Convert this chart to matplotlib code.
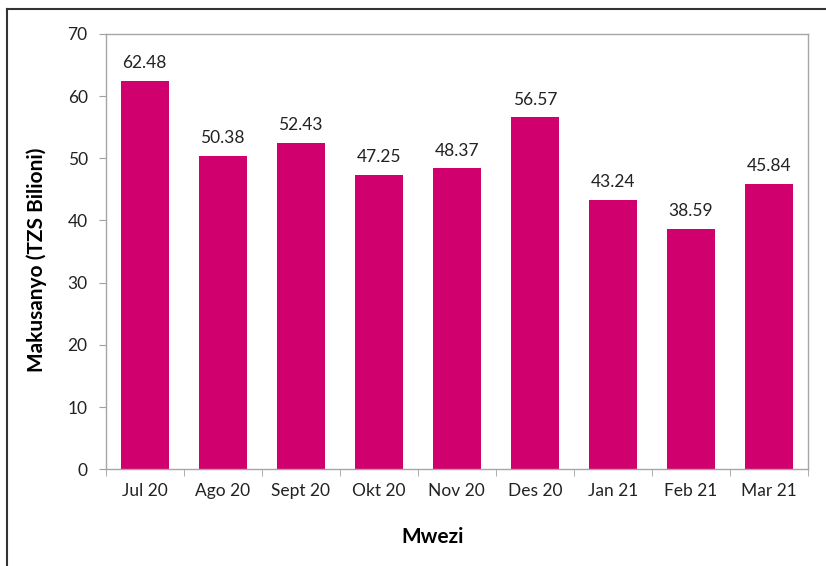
import matplotlib.pyplot as plt
from matplotlib.lines import Line2D
import numpy as np

months = ["Jul 20", "Ago 20", "Sept 20", "Okt 20", "Nov 20", "Des 20", "Jan 21", "Feb 21", "Mar 21"]
values = [62.48, 50.38, 52.43, 47.25, 48.37, 56.57, 43.24, 38.59, 45.84]

plt.rcParams['font.family'] = ['Lato', 'DejaVu Sans']

fig = plt.figure(figsize=(8.26, 5.66), dpi=100)
ax = fig.add_axes([0.128, 0.171, 0.850, 0.769])

x = np.arange(len(months))
bars = ax.bar(x, values, width=0.615, color="#D0006F", zorder=2)

# value labels above bars
for xi, v in zip(x, values):
    ax.text(xi, v + 1.6, "%.2f" % v, ha="center", va="bottom", fontsize=12.5, color="#222222")

ax.set_xlim(-0.5, len(months) - 0.5)
ax.set_ylim(0, 70)
ax.set_yticks(range(0, 71, 10))
ax.set_xticks(x)
ax.set_xticklabels(months)
ax.set_xticks(np.arange(-0.5, len(months), 1), minor=True)

ax.tick_params(axis="x", which="major", length=0, pad=10, labelsize=12.5, labelcolor="#222222")
ax.tick_params(axis="x", which="minor", length=5, color="#A0A0A0", direction="out")
ax.tick_params(axis="y", length=5, color="#A0A0A0", direction="out", pad=8, labelsize=12.5, labelcolor="#222222")

for s in ax.spines.values():
    s.set_color("#A6A6A6")
    s.set_linewidth(1.0)

ax.set_ylabel("Makusanyo (TZS Bilioni)", fontsize=15, fontweight="bold")
ax.yaxis.set_label_coords(-0.083, 0.48)
ax.set_xlabel("Mwezi", fontsize=15, fontweight="bold")
ax.xaxis.set_label_coords(0.466, -0.133)

# outer frame (left and top only visible)
fig.add_artist(Line2D([7 / 826, 7 / 826], [0, 1 - 9 / 566], transform=fig.transFigure, color="#333333", lw=1.5))
fig.add_artist(Line2D([7 / 826, 1], [1 - 9 / 566, 1 - 9 / 566], transform=fig.transFigure, color="#333333", lw=1.5))

fig.savefig("out.png", dpi=100)
